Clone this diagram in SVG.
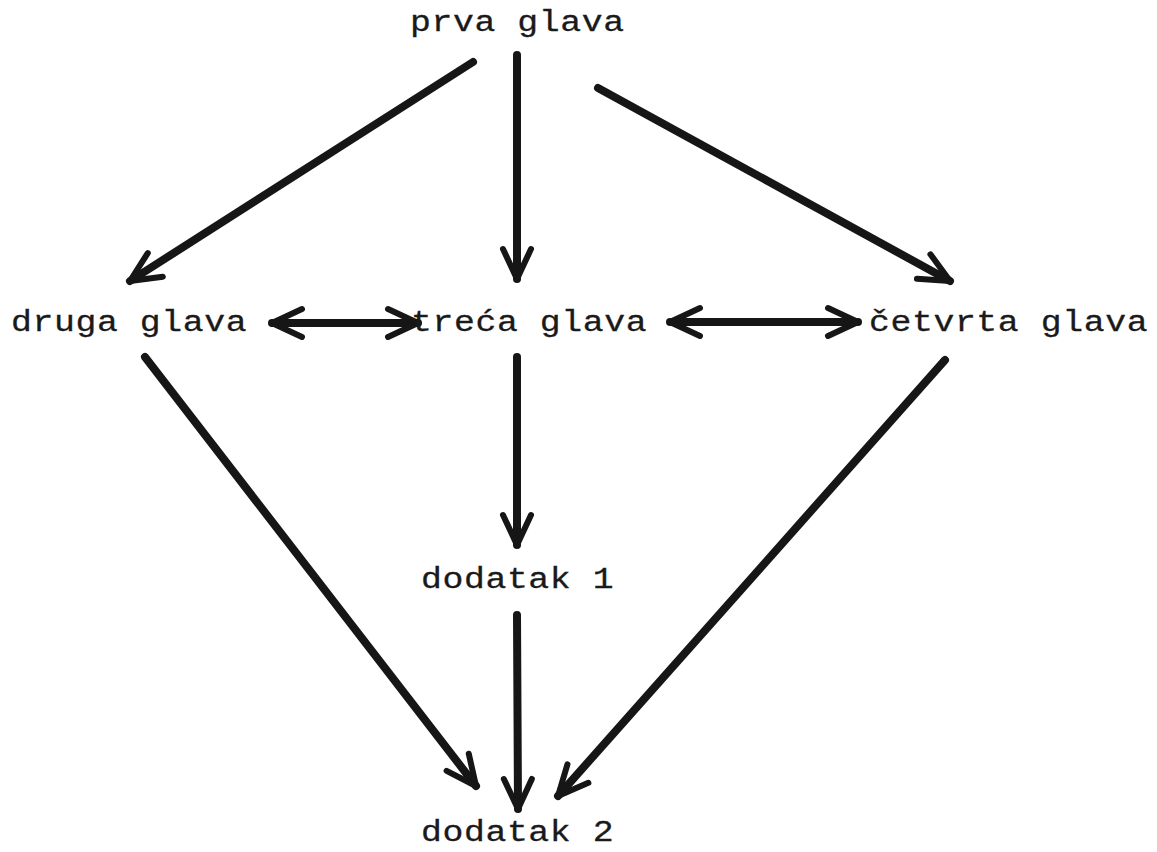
<svg xmlns="http://www.w3.org/2000/svg" width="1157" height="852" viewBox="0 0 1157 852">
  <style>
    .lbl { font-family: "Liberation Mono", "DejaVu Sans Mono", monospace; font-size: 29px; letter-spacing: 0.5px; fill: #1a1a1a; stroke: #1a1a1a; stroke-width: 0.3; }
    .edge { stroke: #161616; stroke-width: 8; fill: none; stroke-linecap: round; }
  </style>
  <defs>
    <marker id="head" markerUnits="userSpaceOnUse" viewBox="-40 -25 46 50" markerWidth="46" markerHeight="50" refX="0" refY="0" orient="auto-start-reverse" overflow="visible">
      <path d="M-30,-14 L0,0 L-30,14" fill="none" stroke="#161616" stroke-width="6" stroke-linecap="round" stroke-linejoin="round"/>
    </marker>
  </defs>
  <rect width="1157" height="852" fill="#ffffff"/>
  <g id="connectors">
    <line class="edge" x1="473" y1="62" x2="130" y2="281" marker-end="url(#head)"/>
    <line class="edge" x1="517" y1="55" x2="517" y2="279" marker-end="url(#head)"/>
    <line class="edge" x1="598" y1="88" x2="950" y2="281" marker-end="url(#head)"/>
    <line class="edge" x1="272" y1="323" x2="418" y2="323" marker-start="url(#head)" marker-end="url(#head)"/>
    <line class="edge" x1="670" y1="322" x2="858" y2="322" marker-start="url(#head)" marker-end="url(#head)"/>
    <line class="edge" x1="517" y1="357" x2="517" y2="545" marker-end="url(#head)"/>
    <line class="edge" x1="145" y1="357" x2="476" y2="786" marker-end="url(#head)"/>
    <line class="edge" x1="945" y1="360" x2="558" y2="796" marker-end="url(#head)"/>
    <line class="edge" x1="517" y1="615" x2="518" y2="809" marker-end="url(#head)"/>
  </g>
  <g id="prva-glava"><text class="lbl" transform="translate(410,31) scale(1.2,1)">prva glava</text></g>
  <g id="druga-glava"><text class="lbl" transform="translate(11,331) scale(1.2,1)">druga glava</text></g>
  <g id="treca-glava"><text class="lbl" transform="translate(411,331) scale(1.2,1)">treća glava</text></g>
  <g id="cetvrta-glava"><text class="lbl" transform="translate(869,331) scale(1.2,1)">četvrta glava</text></g>
  <g id="dodatak-1"><text class="lbl" transform="translate(421,588) scale(1.2,1)">dodatak 1</text></g>
  <g id="dodatak-2"><text class="lbl" transform="translate(421,841) scale(1.2,1)">dodatak 2</text></g>
</svg>
